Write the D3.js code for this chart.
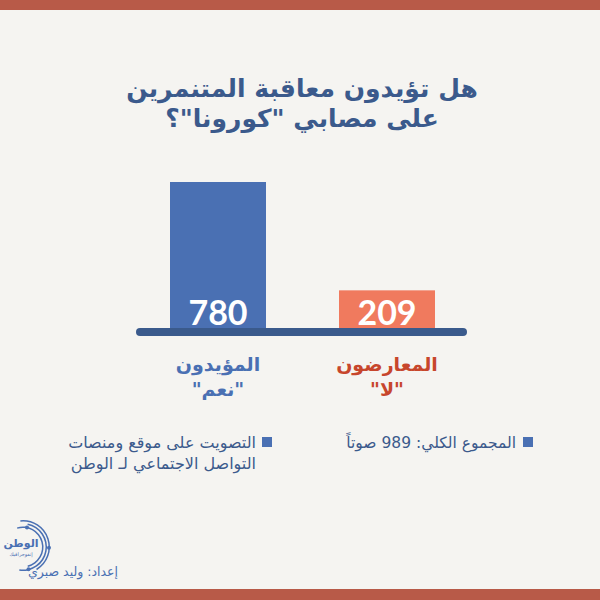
<!DOCTYPE html>
<html><head><meta charset="utf-8">
<script src="https://cdn.jsdelivr.net/npm/d3@7"></script>
<style>
html,body{margin:0;padding:0;background:#f5f4f1;}
svg{display:block;font-family:"DejaVu Sans",sans-serif;}
</style></head>
<body>
<script>
const titleLines = ["هل تؤيدون معاقبة المتنمرين", "على مصابي \"كورونا\"؟"];
const categories = ["المؤيدون", "المعارضون"];
const subLabels = ["\"نعم\"", "\"لا\""];
const values = [780, 209];
const barColors = ["#4a70b3", "#f07a5e"];
const labelColors = ["#4a70b3", "#c7462c"];
const noteRight = ["المجموع الكلي: 989 صوتاً"];
const noteLeft = ["التصويت على موقع ومنصات", "التواصل الاجتماعي لـ الوطن"];
const credit = "إعداد: وليد صبري";

const W = 600, H = 600;
const svg = d3.select("body").append("svg").attr("width", W).attr("height", H);
svg.append("rect").attr("width", W).attr("height", H).attr("fill", "#f5f4f1");
svg.append("rect").attr("x", 0).attr("y", 0).attr("width", W).attr("height", 10).attr("fill", "#b85a48");
svg.append("rect").attr("x", 0).attr("y", 589).attr("width", W).attr("height", 11).attr("fill", "#b85a48");

// title
svg.selectAll("text.title").data(titleLines).enter().append("text")
  .attr("class", "title")
  .attr("x", 302).attr("y", (d, i) => 97 + i * 30)
  .attr("text-anchor", "middle").attr("direction", "rtl")
  .attr("font-size", 25).attr("font-weight", "bold").attr("fill", "#3b5a8c")
  .text(d => d);

// scales
const x = d3.scaleBand().domain(categories).range([136.2, 468.8]).paddingInner(0.432).paddingOuter(0.2);
const y = d3.scaleLinear().domain([0, 780]).range([330, 182]);

svg.selectAll("rect.bar").data(values).enter().append("rect")
  .attr("class", "bar")
  .attr("x", (d, i) => x(categories[i]))
  .attr("width", x.bandwidth())
  .attr("y", d => y(d))
  .attr("height", d => y(0) - y(d))
  .attr("fill", (d, i) => barColors[i]);

// baseline
svg.append("line").attr("x1", 140).attr("x2", 463).attr("y1", 332).attr("y2", 332)
  .attr("stroke", "#3a5a8c").attr("stroke-width", 8).attr("stroke-linecap", "round");

// value labels
svg.selectAll("text.val").data(values).enter().append("text")
  .attr("class", "val")
  .attr("x", (d, i) => x(categories[i]) + x.bandwidth() / 2)
  .attr("y", 325)
  .attr("text-anchor", "middle")
  .attr("font-size", 34).attr("font-weight", "bold").attr("fill", "#ffffff")
  .attr("font-family", "Lato, sans-serif")
  .text(d => d);

// category labels
svg.selectAll("text.cat").data(categories).enter().append("text")
  .attr("class", "cat")
  .attr("x", (d, i) => x(d) + x.bandwidth() / 2)
  .attr("y", 371)
  .attr("text-anchor", "middle").attr("direction", "rtl")
  .attr("font-size", 19).attr("font-weight", "bold")
  .attr("fill", (d, i) => labelColors[i])
  .text(d => d);
svg.selectAll("text.sub").data(subLabels).enter().append("text")
  .attr("class", "sub")
  .attr("x", (d, i) => x(categories[i]) + x.bandwidth() / 2)
  .attr("y", 396)
  .attr("text-anchor", "middle").attr("direction", "rtl")
  .attr("font-size", 19).attr("font-weight", "bold")
  .attr("fill", (d, i) => labelColors[i])
  .text(d => d);

// notes
const noteColor = "#3b5a8c";
svg.append("rect").attr("x", 262).attr("y", 437).attr("width", 10).attr("height", 10).attr("fill", "#4a70b3");
svg.selectAll("text.nl").data(noteLeft).enter().append("text")
  .attr("class", "nl")
  .attr("x", 256).attr("y", (d, i) => 448 + i * 21)
  .attr("text-anchor", "start").attr("direction", "rtl")
  .attr("font-size", 16).attr("fill", noteColor)
  .text(d => d);
svg.append("rect").attr("x", 523).attr("y", 437).attr("width", 10).attr("height", 10).attr("fill", "#4a70b3");
svg.selectAll("text.nr").data(noteRight).enter().append("text")
  .attr("class", "nr")
  .attr("x", 516).attr("y", 448)
  .attr("text-anchor", "start").attr("direction", "rtl")
  .attr("font-size", 15.5).attr("fill", noteColor)
  .text(d => d);

// logo
const lg = svg.append("g").attr("transform", "translate(23,547)");
const arc = d3.arc();
[[19, 20.5, -0.3, 2.9], [22.5, 24, 0.2, 3.3], [25.5, 27, -0.1, 2.6]].forEach(a => {
  lg.append("path").attr("d", arc({innerRadius: a[0], outerRadius: a[1], startAngle: a[2], endAngle: a[3]}))
    .attr("fill", "#4a70b3");
});
[[0.2, 20], [1.6, 26], [2.9, 23]].forEach(p => {
  lg.append("circle").attr("cx", Math.sin(p[0]) * p[1]).attr("cy", -Math.cos(p[0]) * p[1]).attr("r", 2).attr("fill", "#4a70b3");
});
lg.append("text").attr("x", -2).attr("y", 0).attr("text-anchor", "middle").attr("direction", "rtl")
  .attr("font-size", 11).attr("font-weight", "bold").attr("fill", "#4a70b3").text("الوطن");
lg.append("text").attr("x", -2).attr("y", 9).attr("text-anchor", "middle").attr("direction", "rtl")
  .attr("font-size", 5).attr("fill", "#4a70b3").text("إنفوجرافيك");

svg.append("text").attr("x", 118).attr("y", 576).attr("text-anchor", "start").attr("direction", "rtl")
  .attr("font-size", 12.5).attr("fill", "#4a70b3").text(credit);
</script>
</body></html>
